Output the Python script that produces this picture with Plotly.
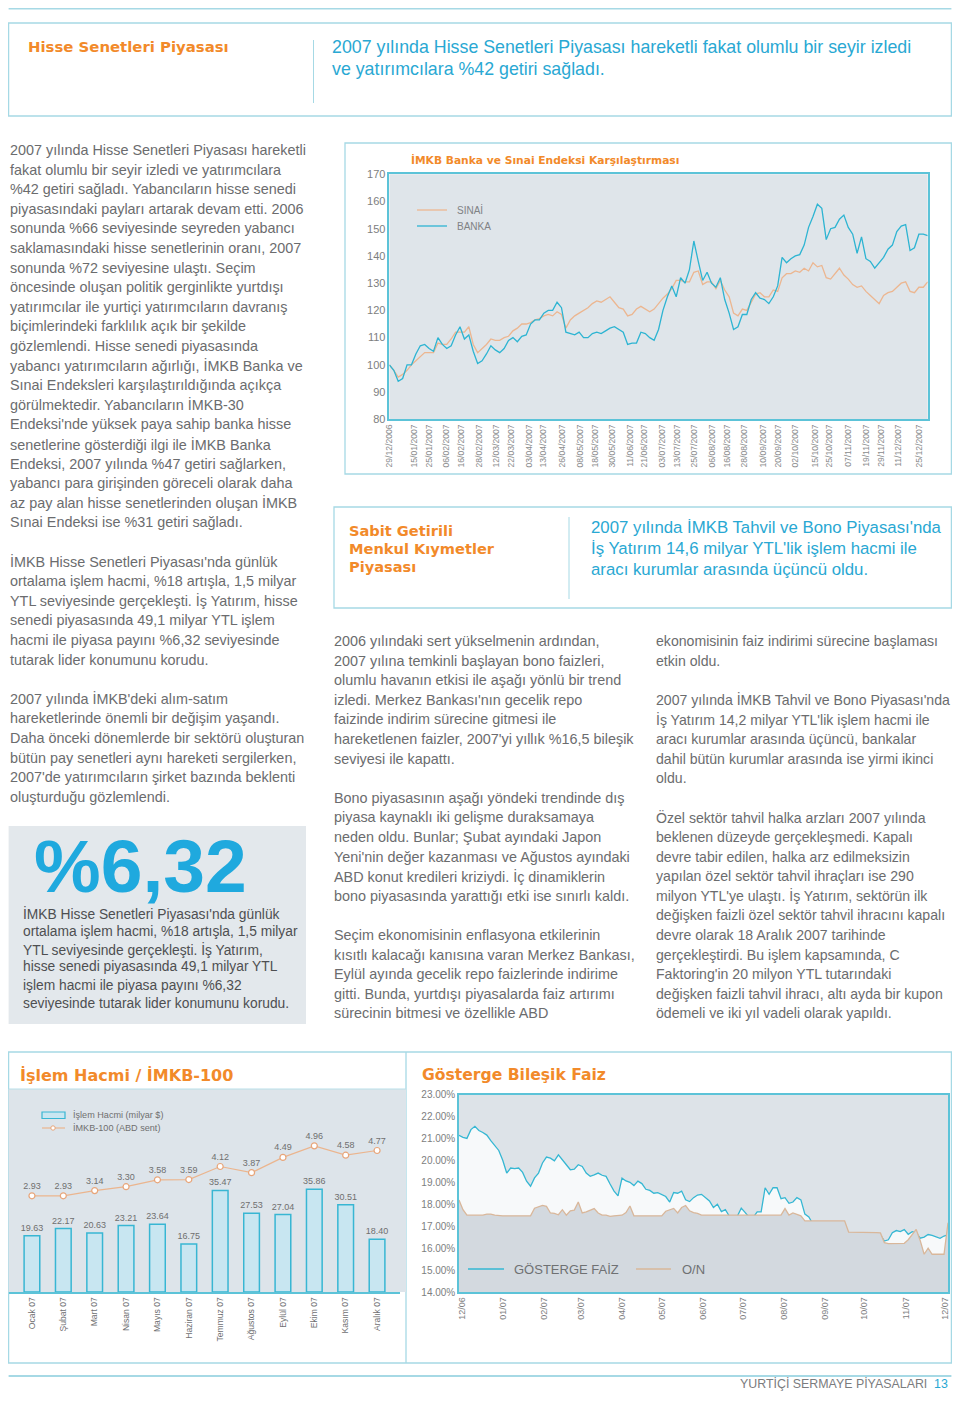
import plotly.graph_objects as go
import pandas as pd

OFF = 8  # the page body margin shifts the figure by this many pixels
W, H = 960 - 2 * OFF, 1401 - 2 * OFF


def px(x):
    return min(max(x - OFF, 0.6), W - 0.6) / W


def py(y):
    return 1 - min(max(y - OFF, 0.6), H - 0.6) / H


BODY = "Liberation Sans, Arial, sans-serif"
HEAVY = "DejaVu Sans, Liberation Sans, Arial, sans-serif"
NARROW = "Liberation Sans Narrow, Liberation Sans, Arial, sans-serif"
ORANGE = "#f28a2a"
CYAN_TXT = "#29a8d3"
GRAY_TXT = "#6b6c6e"
BORDER = "#a6d9e5"
AXCYAN = "#5cc3d8"

# ---------------- Chart 1 data: İMKB Banka ve Sınai Endeksi ----------------
chart1_start, chart1_end = "2006-12-29", "2007-12-31"
banka = [100, 98, 94, 95, 100, 100, 104, 107, 107.5, 106, 105, 110, 107.5, 106, 107, 111,
         114, 109.5, 111, 105, 100.5, 101.5, 104, 107, 105.5, 104.5, 106, 109, 110, 108.5,
         110.5, 111, 115, 116.5, 116.5, 119, 120, 120, 123, 121, 112, 111.5, 111, 112, 110,
         110, 111.5, 112, 111.5, 112.5, 113.5, 114, 113, 112, 107.5, 108, 108, 112, 111.5,
         110, 109, 113, 120, 125, 129, 125, 132, 130, 135, 145.5, 138, 131, 134, 130, 128.5,
         132, 124, 119, 113, 114, 118.5, 118.5, 124, 126.5, 124.5, 124, 122.5, 125, 129,
         139.5, 137.5, 139, 140, 140.5, 144, 150.5, 154.5, 159, 157.5, 146, 150, 150.5,
         153.5, 155, 150.5, 148, 141, 147, 139, 138, 135.5, 137.5, 139.5, 142.5, 144, 149,
         151, 151.5, 142, 143, 148, 148, 147.5]
sinai = [100, 98, 95.5, 96.5, 98, 100, 101.5, 103, 104.5, 104.5, 104.5, 108, 107.5, 107.5,
         109.5, 112, 112, 112, 114, 107.5, 104.5, 106, 107.5, 109.5, 109, 109, 110, 110.5,
         112.5, 113.5, 115, 115, 115.5, 116.5, 117, 118, 118.5, 118, 119.5, 118.5, 113.5,
         116.5, 118, 119, 120, 121, 122.5, 123.5, 123, 124, 125, 123, 121, 120.5, 118, 118.5,
         120.5, 121.5, 120.5, 119.5, 120.5, 122.5, 124.5, 126, 128, 131, 131, 130.5, 130.5,
         134, 134.5, 129.5, 130.5, 130.5, 128, 131, 127.5, 125, 119, 118, 120.5, 120, 123,
         126, 126.5, 125, 125, 127.5, 127, 132, 133.5, 133.5, 134.5, 134, 135.5, 134.5, 137.5,
         136, 136.5, 132, 131.5, 133.5, 135.5, 133, 131.5, 129.5, 128.5, 129, 127, 125.5, 124,
         122.5, 125.5, 126.5, 127, 128.5, 130, 130.5, 127, 126.5, 128.5, 128.5, 130.5]
chart1_ticks = ["2006-12-29", "2007-01-15", "2007-01-25", "2007-02-06", "2007-02-16",
                "2007-02-28", "2007-03-12", "2007-03-22", "2007-04-03", "2007-04-13",
                "2007-04-26", "2007-05-08", "2007-05-18", "2007-05-30", "2007-06-11",
                "2007-06-21", "2007-07-03", "2007-07-13", "2007-07-25", "2007-08-06",
                "2007-08-16", "2007-08-28", "2007-09-10", "2007-09-20", "2007-10-02",
                "2007-10-15", "2007-10-25", "2007-11-07", "2007-11-19", "2007-11-29",
                "2007-12-11", "2007-12-25"]
chart1_ticktext = [pd.Timestamp(d).strftime("%d/%m/%Y") for d in chart1_ticks]
dates1 = pd.date_range(chart1_start, chart1_end, periods=len(banka))

# ---------------- Chart 2 data: İşlem Hacmi / İMKB-100 ----------------
months = ["Ocak 07", "Şubat 07", "Mart 07", "Nisan 07", "Mayıs 07", "Haziran 07",
          "Temmuz 07", "Ağustos 07", "Eylül 07", "Ekim 07", "Kasım 07", "Aralık 07"]
islem_hacmi = [19.63, 22.17, 20.63, 23.21, 23.64, 16.75, 35.47, 27.53, 27.04, 35.86, 30.51, 18.40]
imkb100 = [2.93, 2.93, 3.14, 3.30, 3.58, 3.59, 4.12, 3.87, 4.49, 4.96, 4.58, 4.77]

# ---------------- Chart 3 data: Gösterge Bileşik Faiz ----------------
chart3_start, chart3_end = "2006-11-29", "2007-12-03"
gosterge = [21.14, 21.05, 21.00, 21.40, 21.55, 21.36, 21.27, 21.15, 20.90, 20.70, 20.45, 20.00,
            19.42, 19.65, 19.62, 19.65, 19.45, 19.05, 18.82, 19.20, 19.42, 19.88, 20.15, 20.10,
            19.98, 20.25, 20.05, 19.80, 19.57, 19.60, 19.80, 19.72, 19.42, 19.27, 19.34, 19.42,
            19.32, 19.27, 18.92, 18.60, 18.38, 19.19, 19.06, 19.00, 18.85, 19.05, 18.94, 18.68,
            18.63, 18.50, 18.53, 18.44, 18.35, 18.10, 18.53, 18.50, 18.60, 18.20, 18.12, 18.30,
            18.42, 18.45, 18.30, 18.15, 17.85, 18.00, 17.66, 17.75, 17.45, 17.40, 17.45, 17.82,
            17.62, 17.40, 17.40, 17.65, 17.65, 18.75, 18.45, 18.75, 18.75, 18.25, 18.30, 18.04,
            18.10, 18.30, 18.20, 17.55, 17.42, 17.10, 17.10, 17.10, 17.10, 17.10, 17.10, 17.10,
            17.10, 17.10, 16.60, 16.60, 16.60, 16.60, 16.60, 16.60, 16.60, 16.60, 16.60, 16.32,
            16.38, 16.70, 16.80, 16.75, 16.84, 16.63, 16.75, 16.70, 16.45, 16.50, 16.62, 16.58,
            16.50, 16.45, 16.55, 16.60]
overnight = [18.19, 17.75, 17.50, 17.50, 17.50, 17.50, 17.50, 17.55, 17.55, 17.50, 17.47, 17.47,
             17.47, 17.47, 17.47, 17.50, 17.50, 17.50, 17.47, 17.82, 17.88, 17.95, 17.90, 17.60,
             17.58, 17.52, 17.75, 17.50, 17.70, 17.73, 18.10, 17.60, 17.65, 17.72, 17.80, 17.60,
             17.50, 17.50, 17.45, 17.47, 17.47, 17.50, 17.62, 17.92, 17.47, 17.47, 17.47, 17.47,
             17.47, 17.47, 17.47, 17.47, 17.68, 17.75, 17.81, 17.60, 17.85, 17.94, 17.70, 17.62,
             17.58, 17.50, 17.50, 17.50, 17.50, 17.50, 17.50, 17.50, 17.50, 17.50, 17.50, 17.50,
             17.50, 17.50, 17.50, 17.50, 17.50, 17.50, 17.50, 17.50, 17.50, 17.50, 17.80, 17.50,
             17.60, 17.55, 17.47, 17.24, 17.24, 17.24, 17.24, 17.24, 17.24, 17.24, 17.24, 17.24,
             17.24, 17.24, 16.73, 16.73, 16.73, 16.73, 16.73, 16.73, 16.71, 16.71, 16.69, 16.25,
             16.20, 16.20, 16.20, 16.20, 16.22, 16.38, 16.60, 16.85, 16.35, 15.72, 16.00, 15.72,
             15.72, 15.72, 15.72, 17.15]
dates3 = pd.date_range(chart3_start, periods=len(gosterge), freq="3D")

# ---------------- Text content ----------------
header_title = "Hisse Senetleri Piyasası"
header_sub = ["2007 yılında Hisse Senetleri Piyasası hareketli fakat olumlu bir seyir izledi",
              "ve yatırımcılara %42 getiri sağladı."]
col1 = ["2007 yılında Hisse Senetleri Piyasası hareketli",
        "fakat olumlu bir seyir izledi ve yatırımcılara",
        "%42 getiri sağladı. Yabancıların hisse senedi",
        "piyasasındaki payları artarak devam etti. 2006",
        "sonunda %66 seviyesinde seyreden yabancı",
        "saklamasındaki hisse senetlerinin oranı, 2007",
        "sonunda %72 seviyesine ulaştı. Seçim",
        "öncesinde oluşan politik gerginlikte yurtdışı",
        "yatırımcılar ile yurtiçi yatırımcıların davranış",
        "biçimlerindeki farklılık açık bir şekilde",
        "gözlemlendi. Hisse senedi piyasasında",
        "yabancı yatırımcıların ağırlığı, İMKB Banka ve",
        "Sınai Endeksleri karşılaştırıldığında açıkça",
        "görülmektedir. Yabancıların İMKB-30",
        "Endeksi'nde yüksek paya sahip banka hisse",
        "senetlerine gösterdiği ilgi ile İMKB Banka",
        "Endeksi, 2007 yılında %47 getiri sağlarken,",
        "yabancı para girişinden göreceli olarak daha",
        "az pay alan hisse senetlerinden oluşan İMKB",
        "Sınai Endeksi ise %31 getiri sağladı.",
        "",
        "İMKB Hisse Senetleri Piyasası'nda günlük",
        "ortalama işlem hacmi, %18 artışla, 1,5 milyar",
        "YTL seviyesinde gerçekleşti. İş Yatırım, hisse",
        "senedi piyasasında 49,1 milyar YTL işlem",
        "hacmi ile piyasa payını %6,32 seviyesinde",
        "tutarak lider konumunu korudu.",
        "",
        "2007 yılında İMKB'deki alım-satım",
        "hareketlerinde önemli bir değişim yaşandı.",
        "Daha önceki dönemlerde bir sektörü oluşturan",
        "bütün pay senetleri aynı hareketi sergilerken,",
        "2007'de yatırımcıların şirket bazında beklenti",
        "oluşturduğu gözlemlendi."]
big_number = "%6,32"
box_lines = ["İMKB Hisse Senetleri Piyasası'nda günlük",
             "ortalama işlem hacmi, %18 artışla, 1,5 milyar",
             "YTL seviyesinde gerçekleşti. İş Yatırım,",
             "hisse senedi piyasasında 49,1 milyar YTL",
             "işlem hacmi ile piyasa payını %6,32",
             "seviyesinde tutarak lider konumunu korudu."]
sabit_title = ["Sabit Getirili", "Menkul Kıymetler", "Piyasası"]
sabit_sub = ["2007 yılında İMKB Tahvil ve Bono Piyasası'nda",
             "İş Yatırım 14,6 milyar YTL'lik işlem hacmi ile",
             "aracı kurumlar arasında üçüncü oldu."]
col2 = ["2006 yılındaki sert yükselmenin ardından,",
        "2007 yılına temkinli başlayan bono faizleri,",
        "olumlu havanın etkisi ile aşağı yönlü bir trend",
        "izledi. Merkez Bankası'nın gecelik repo",
        "faizinde indirim sürecine gitmesi ile",
        "hareketlenen faizler, 2007'yi yıllık %16,5 bileşik",
        "seviyesi ile kapattı.",
        "",
        "Bono piyasasının aşağı yöndeki trendinde dış",
        "piyasa kaynaklı iki gelişme duraksamaya",
        "neden oldu. Bunlar; Şubat ayındaki Japon",
        "Yeni'nin değer kazanması ve Ağustos ayındaki",
        "ABD konut kredileri kriziydi. İç dinamiklerin",
        "bono piyasasında yarattığı etki ise sınırlı kaldı.",
        "",
        "Seçim ekonomisinin enflasyona etkilerinin",
        "kısıtlı kalacağı kanısına varan Merkez Bankası,",
        "Eylül ayında gecelik repo faizlerinde indirime",
        "gitti. Bunda, yurtdışı piyasalarda faiz artırımı",
        "sürecinin bitmesi ve özellikle ABD"]
col3 = ["ekonomisinin faiz indirimi sürecine başlaması",
        "etkin oldu.",
        "",
        "2007 yılında İMKB Tahvil ve Bono Piyasası'nda",
        "İş Yatırım 14,2 milyar YTL'lik işlem hacmi ile",
        "aracı kurumlar arasında üçüncü, bankalar",
        "dahil bütün kurumlar arasında ise yirmi ikinci",
        "oldu.",
        "",
        "Özel sektör tahvil halka arzları 2007 yılında",
        "beklenen düzeyde gerçekleşmedi. Kapalı",
        "devre tabir edilen, halka arz edilmeksizin",
        "yapılan özel sektör tahvil ihraçları ise 290",
        "milyon YTL'ye ulaştı. İş Yatırım, sektörün ilk",
        "değişken faizli özel sektör tahvil ihracını kapalı",
        "devre olarak 18 Aralık 2007 tarihinde",
        "gerçekleştirdi. Bu işlem kapsamında, C",
        "Faktoring'in 20 milyon YTL tutarındaki",
        "değişken faizli tahvil ihracı, altı ayda bir kupon",
        "ödemeli ve iki yıl vadeli olarak yapıldı."]

# ---------------- Figure ----------------
fig = go.Figure()

# Chart 1
fig.add_trace(go.Scatter(x=dates1, y=sinai, xaxis="x", yaxis="y", mode="lines", name="SINAİ",
                         line=dict(color="#ecb690", width=1.3), showlegend=False))
fig.add_trace(go.Scatter(x=dates1, y=banka, xaxis="x", yaxis="y", mode="lines", name="BANKA",
                         line=dict(color="#2db4d2", width=1.3), showlegend=False))

# Chart 2
fig.add_trace(go.Bar(x=months, y=islem_hacmi, xaxis="x2", yaxis="y2", name="İşlem Hacmi (milyar $)",
                     marker=dict(color="#c8e6f1", line=dict(color="#38b6d3", width=1.5)),
                     text=[f"{v:.2f}" for v in islem_hacmi], textposition="outside",
                     constraintext="none",
                     textfont=dict(size=9, color="#6f6f6f", family=BODY), cliponaxis=False,
                     showlegend=False))
fig.add_trace(go.Scatter(x=months, y=imkb100, xaxis="x2", yaxis="y3", name="İMKB-100 (ABD sent)",
                         mode="lines+markers+text", text=[f"{v:.2f}" for v in imkb100],
                         textposition="top center", textfont=dict(size=9, color="#6f6f6f", family=BODY),
                         line=dict(color="#ebb58e", width=1.2),
                         marker=dict(size=6, color="white", line=dict(color="#e7a57a", width=1.2)),
                         cliponaxis=False, showlegend=False))

# Chart 3
fig.add_trace(go.Scatter(x=dates3, y=gosterge, xaxis="x3", yaxis="y4", mode="lines", name="GÖSTERGE FAİZ",
                         line=dict(color="#35b7d3", width=1.3), fill="tozeroy", fillcolor="#f7f9fa",
                         showlegend=False))
fig.add_trace(go.Scatter(x=dates3, y=overnight, xaxis="x3", yaxis="y4", mode="lines", name="O/N",
                         line=dict(color="#d9b79a", width=1.3), fill="tozeroy", fillcolor="#d3d9df",
                         showlegend=False))

shapes = []


def rect(x0, y0, x1, y1, fill=None, line=None, width=1, layer="below"):
    shapes.append(dict(type="rect", xref="paper", yref="paper", x0=px(x0), x1=px(x1), y0=py(y1), y1=py(y0),
                       fillcolor=fill if fill else "rgba(0,0,0,0)",
                       line=dict(color=line if line else "rgba(0,0,0,0)", width=width if line else 0),
                       layer=layer))


def hline(x0, x1, y, color, width=1, layer="below"):
    shapes.append(dict(type="line", xref="paper", yref="paper", x0=px(x0), x1=px(x1), y0=py(y), y1=py(y),
                       line=dict(color=color, width=width), layer=layer))


def vline(x, y0, y1, color, width=1, layer="below"):
    shapes.append(dict(type="line", xref="paper", yref="paper", x0=px(x), x1=px(x), y0=py(y0), y1=py(y1),
                       line=dict(color=color, width=width), layer=layer))


# page structure
hline(0, 968, 2, BORDER, 2)
rect(6, 23, 958, 116, line=BORDER, width=1.3)
vline(313.5, 40, 103, BORDER, 1)
rect(345, 143, 958, 474, line=BORDER, width=1.3)
rect(389.4, 174.3, 927.7, 419.3, fill="#dfe5ea")
rect(7, 826, 306, 1024, fill="#e3e8ec")
rect(334, 507, 958, 608, line=BORDER, width=1.3)
vline(569, 517, 599, BORDER, 1)
rect(6, 1052, 958, 1363, line=BORDER, width=1.3)
vline(406, 1052, 1363, BORDER, 1.3)
rect(6, 1089, 406, 1292, fill="#dde4ea")
hline(6, 406, 1089, "#b9dfe8", 1)
rect(459, 1094.5, 948, 1292, fill="#dde3e8")
hline(6, 958, 1376, BORDER, 2)

# legends
hline(417, 447, 210, "#ecb690", 1.3, "above")
hline(417, 447, 226, "#2db4d2", 1.3, "above")
rect(42, 1112, 65, 1118.5, fill="#c8e6f1", line="#38b6d3", width=1.2, layer="above")
hline(42, 65, 1128, "#ebb58e", 1.2, "above")
shapes.append(dict(type="circle", xref="paper", yref="paper", x0=px(50.8), x1=px(55.2), y0=py(1130.2),
                   y1=py(1125.8), fillcolor="white", line=dict(color="#e7a57a", width=1), layer="above"))
hline(468, 504, 1269, "#35b7d3", 1.3, "above")
hline(636, 671, 1269, "#d9b79a", 1.3, "above")

annotations = []


def text(x, y, t, size, color, family=BODY, xanchor="left", bold=False):
    annotations.append(dict(x=px(x), y=py(y), xref="paper", yref="paper", showarrow=False,
                            text=f"<b>{t}</b>" if bold else t, xanchor=xanchor, yanchor="middle",
                            font=dict(size=size, color=color, family=family), borderpad=0))


def lines(ls, x, y0, dy, size, color, family=BODY, bold=False):
    for k, t in enumerate(ls):
        if t:
            text(x, y0 + k * dy, t, size, color, family, bold=bold)


text(27, 47, header_title, 14.9, ORANGE, HEAVY, bold=True)
lines(header_sub, 331, 47, 22, 17.8, CYAN_TXT)
lines(col1, 6, 150, 19.6, 14.4, GRAY_TXT)
text(33, 866, big_number, 75, "#1fa9de", bold=True)
lines(box_lines, 22, 913, 18, 13.8, "#4e4f51")
lines(sabit_title, 348, 530, 18.2, 14.6, ORANGE, HEAVY, bold=True)
lines(sabit_sub, 590, 527, 21, 16.8, CYAN_TXT)
lines(col2, 333, 641, 19.6, 14.4, GRAY_TXT)
lines(col3, 655, 641, 19.6, 14.1, GRAY_TXT)

text(410, 160, "İMKB Banka ve Sınai Endeksi Karşılaştırması", 10.7, ORANGE, HEAVY, bold=True)
text(456, 210, "SINAİ", 10, "#808285", NARROW)
text(456, 226, "BANKA", 10, "#808285", NARROW)

text(19, 1075, "İşlem Hacmi / İMKB-100", 16, ORANGE, HEAVY, bold=True)
text(72, 1115, "İşlem Hacmi (milyar $)", 9.1, "#6f6f6f")
text(72, 1128, "İMKB-100 (ABD sent)", 9.1, "#6f6f6f")

text(421, 1075, "Gösterge Bileşik Faiz", 15.6, ORANGE, HEAVY, bold=True)
text(513, 1269, "GÖSTERGE FAİZ", 13, "#6f7173")
text(681, 1269, "O/N", 13, "#6f7173")

text(928, 1384, "YURTİÇİ SERMAYE PİYASALARI", 12.4, "#7b7c7e", NARROW, xanchor="right")
text(933, 1384, "13", 12.4, CYAN_TXT, NARROW)

fig.update_layout(
    width=W, height=H, autosize=False,
    margin=dict(l=0, r=0, t=0, b=0, pad=0),
    paper_bgcolor="white", plot_bgcolor="rgba(0,0,0,0)",
    showlegend=False, bargap=0.5,
    font=dict(family=BODY, color=GRAY_TXT),
    xaxis=dict(domain=[px(389.4), px(927.7)], anchor="y", type="date", automargin=False,
               range=[chart1_start, chart1_end], tickvals=chart1_ticks, ticktext=chart1_ticktext,
               tickangle=-90, tickfont=dict(size=8.6, color="#8a8b8d", family=NARROW),
               showgrid=False, zeroline=False,
               showline=True, mirror=True, linecolor=AXCYAN, linewidth=1.5, ticks=""),
    yaxis=dict(domain=[py(419.3), py(174.3)], anchor="x", range=[80, 170], dtick=10, automargin=False,
               tickfont=dict(size=11, color="#7d7e80", family=BODY), showgrid=False, zeroline=False,
               showline=True, mirror=True, linecolor=AXCYAN, linewidth=1.5, ticks=""),
    xaxis2=dict(domain=[px(8), px(400.4)], anchor="y2", type="category", automargin=False,
                tickangle=-90, tickfont=dict(size=8.6, color="#6f7072", family=NARROW),
                showgrid=False, zeroline=False, showline=True, linecolor=AXCYAN, linewidth=1.5, ticks=""),
    yaxis2=dict(domain=[py(1292), py(1089)], anchor="x2", range=[0, 70.9], visible=False, automargin=False),
    yaxis3=dict(overlaying="y2", anchor="x2", range=[-0.98, 7.27], visible=False, automargin=False),
    xaxis3=dict(domain=[px(459), px(948)], anchor="y4", type="date", automargin=False,
                range=[chart3_start, chart3_end], dtick="M1", tick0="2006-12-01", tickformat="%m/%y",
                tickangle=-90, tickfont=dict(size=9, color="#7d7e80", family=NARROW),
                showgrid=False, zeroline=False, showline=True, mirror=True, linecolor=AXCYAN,
                linewidth=1.5, ticks=""),
    yaxis4=dict(domain=[py(1292), py(1094.5)], anchor="x3", range=[14, 23], dtick=1, automargin=False,
                tickformat=".2f", ticksuffix="%", tickfont=dict(size=10, color="#7d7e80", family=NARROW),
                showgrid=False, zeroline=False, showline=True, mirror=True, linecolor=AXCYAN,
                linewidth=1.5, ticks=""),
    shapes=shapes,
    annotations=annotations,
)

fig.write_html("out.html")
